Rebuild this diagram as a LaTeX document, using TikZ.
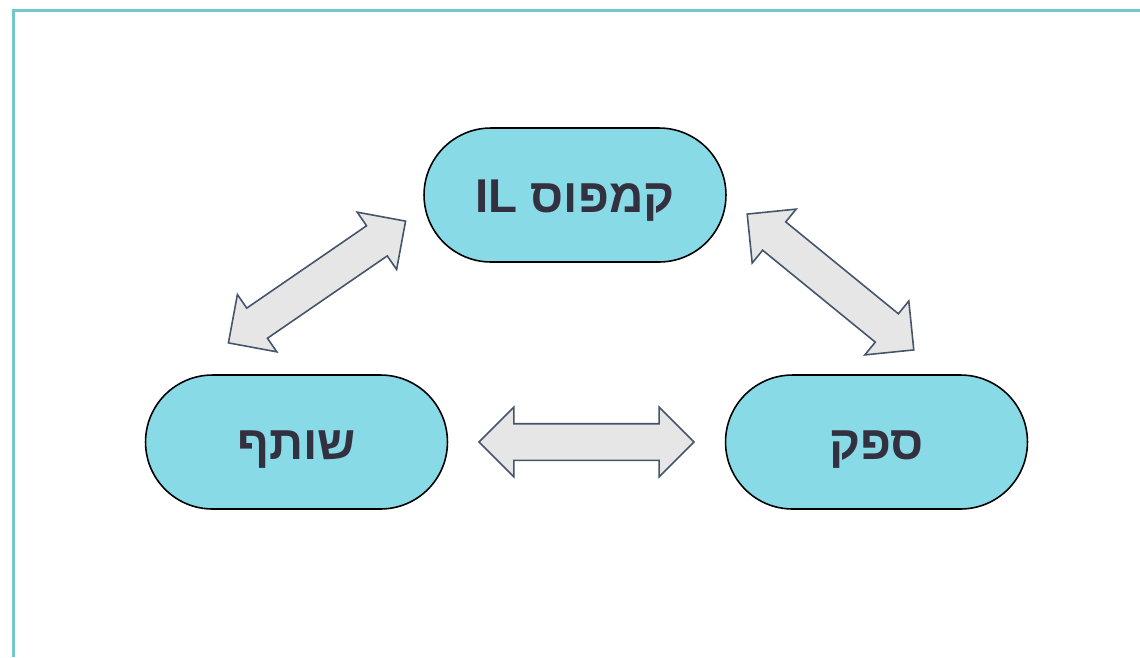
\documentclass[tikz,border=0pt]{standalone}
\usepackage{fontspec}
\usetikzlibrary{shapes.misc,shapes.arrows}
\TeXXeTstate=1
\newfontfamily\hebfont[Script=Hebrew]{Liberation Sans}
\definecolor{frameteal}{HTML}{72C6CE}
\definecolor{boxfill}{HTML}{88DAE6}
\definecolor{inktext}{HTML}{33313F}
\definecolor{arrowfill}{HTML}{E6E6E6}
\definecolor{arrowedge}{HTML}{44546A}
\tikzset{
  party/.style={rounded rectangle, draw=black, line width=0.9pt, fill=boxfill,
    minimum width=6.04cm, minimum height=2.68cm, inner sep=0pt,
    text height=19.4pt, text depth=0pt,
    font=\hebfont\bfseries\fontsize{27}{31}\selectfont, text=inktext},
  link/.style={double arrow, draw=arrowedge, line width=0.9pt, fill=arrowfill,
    inner xsep=0pt, inner ysep=0.35cm, double arrow head extend=0.33cm,
    minimum height=4.3cm}
}
\begin{document}
\begin{tikzpicture}[x=0.02cm,y=-0.02cm]
\useasboundingbox (0,0) rectangle (1140,657);
\draw[frameteal, line width=1.7pt] (13.5,657) -- (13.5,10.5) -- (1140,10.5);

\node[party] (campus) at (575,195) {\beginR קמפוס \beginL IL\endL\endR};
\node[party] (partner) at (296.5,442) {\beginR שותף\endR};
\node[party] (supplier) at (876.5,442) {\beginR ספק\endR};

\node[link, rotate=34.5] (campus-partner) at (317,282) {};
\node[link, rotate=-39.2] (campus-supplier) at (830.5,282) {};
\node[link] (partner-supplier) at (586.5,442) {};
\end{tikzpicture}
\end{document}
